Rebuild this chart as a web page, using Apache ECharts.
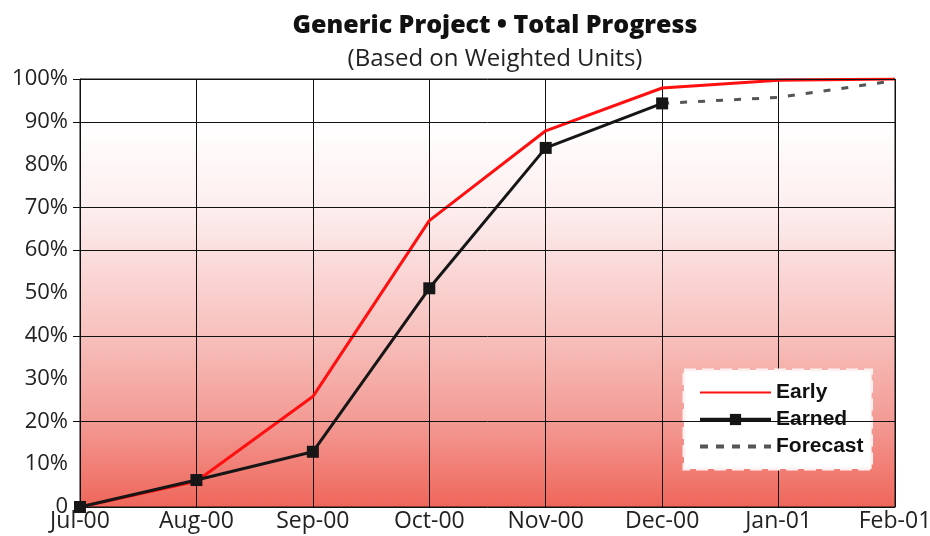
<!DOCTYPE html>
<html>
<head>
<meta charset="utf-8">
<script src="https://cdn.jsdelivr.net/npm/echarts@6/dist/echarts.min.js"></script>
<style>html,body{margin:0;padding:0;background:#fff}#c{width:930px;height:536px}</style>
</head>
<body>
<div id="c"></div>
<script>
var months = ['Jul-00','Aug-00','Sep-00','Oct-00','Nov-00','Dec-00','Jan-01','Feb-01'];
var early = [0, 6, 25.8, 66.9, 87.9, 97.9, 99.7, 100];
var earned = [0, 6.3, 12.9, 51.1, 83.9, 94.3, null, null];
var forecast = [null, null, null, null, null, 94.3, 95.7, 99.6];
var gridValues = [20, 40, 60, 70, 90, 100];
var titleText = 'Generic Project \u2022 Total Progress';
var subtitleText = '(Based on Weighted Units)';

var chart = echarts.init(document.getElementById('c'));
chart.setOption({
  backgroundColor: '#fff',
  animation: false,
  title: [
    {text: titleText, left: 490, top: 8, textAlign: 'center',
     textStyle: {fontFamily: 'Open Sans', fontWeight: 800, fontSize: 25, color: '#111'}},
    {text: subtitleText, left: 490, top: 42, textAlign: 'center',
     textStyle: {fontFamily: 'Open Sans', fontWeight: 'normal', fontSize: 24, color: '#222'}}
  ],
  grid: {
    left: 80, right: 35, top: 79, bottom: 29,
    containLabel: false, outerBoundsMode: 'none',
    show: true, borderColor: '#111', borderWidth: 1,
    backgroundColor: new echarts.graphic.LinearGradient(0, 0, 0, 1, [
      {offset: 0, color: '#ffffff'},
      {offset: 0.1, color: '#ffffff'},
      {offset: 0.3, color: '#fdeeee'},
      {offset: 0.4, color: '#fbdfdf'},
      {offset: 0.6, color: '#f7c0bc'},
      {offset: 0.8, color: '#f39a94'},
      {offset: 1, color: '#ef665a'}
    ])
  },
  legend: {
    orient: 'vertical', left: 684, top: 370,
    padding: [12, 8, 12, 14],
    backgroundColor: '#fff', borderColor: '#fdf1f1', borderWidth: 3, borderType: 'dashed',
    itemWidth: 71, itemHeight: 14, itemGap: 6,
    textStyle: {fontFamily: 'Liberation Sans', fontWeight: 'bold', fontSize: 21, color: '#111', padding: [0,0,0,0]},
    data: [
      {name: 'Early', itemStyle: {opacity: 0}, lineStyle: {width: 2}},
      {name: 'Earned', lineStyle: {width: 3.5}},
      {name: 'Forecast', itemStyle: {opacity: 0}, lineStyle: {width: 4, type: [8, 8]}}
    ]
  },
  xAxis: {
    type: 'category', data: months, boundaryGap: false,
    axisLine: {lineStyle: {color: '#111', width: 1}},
    axisTick: {show: false},
    axisLabel: {fontFamily: 'Open Sans', fontSize: 23, color: '#222', margin: 3},
    splitLine: {show: true, lineStyle: {color: '#111', width: 1}}
  },
  yAxis: {
    type: 'value', min: 0, max: 100, interval: 10,
    axisLine: {show: true, lineStyle: {color: '#111', width: 1}},
    axisTick: {show: true, length: 7, customValues: gridValues, lineStyle: {color: '#111'}},
    axisLabel: {fontFamily: 'Open Sans', fontSize: 22, color: '#222', margin: 12,
      formatter: function (v) { return v === 0 ? '0' : v + '%'; }},
    splitLine: {show: false}
  },
  series: [
    {name: 'Early', type: 'line', data: early, symbol: 'none',
     lineStyle: {color: '#ff1010', width: 3}, itemStyle: {color: '#ff1010'}, z: 3,
     markLine: {silent: true, symbol: 'none', label: {show: false}, animation: false,
       lineStyle: {color: '#111', width: 1, type: 'solid'},
       data: gridValues.map(function (v) { return {yAxis: v}; })}},
    {name: 'Earned', type: 'line', data: earned, symbol: 'rect', symbolSize: 12,
     lineStyle: {color: '#161616', width: 3}, itemStyle: {color: '#161616'}, z: 4},
    {name: 'Forecast', type: 'line', data: forecast, symbol: 'none',
     lineStyle: {color: '#555', width: 3, type: [7, 11]}, itemStyle: {color: '#555'}, z: 2}
  ]
});
</script>
</body>
</html>
